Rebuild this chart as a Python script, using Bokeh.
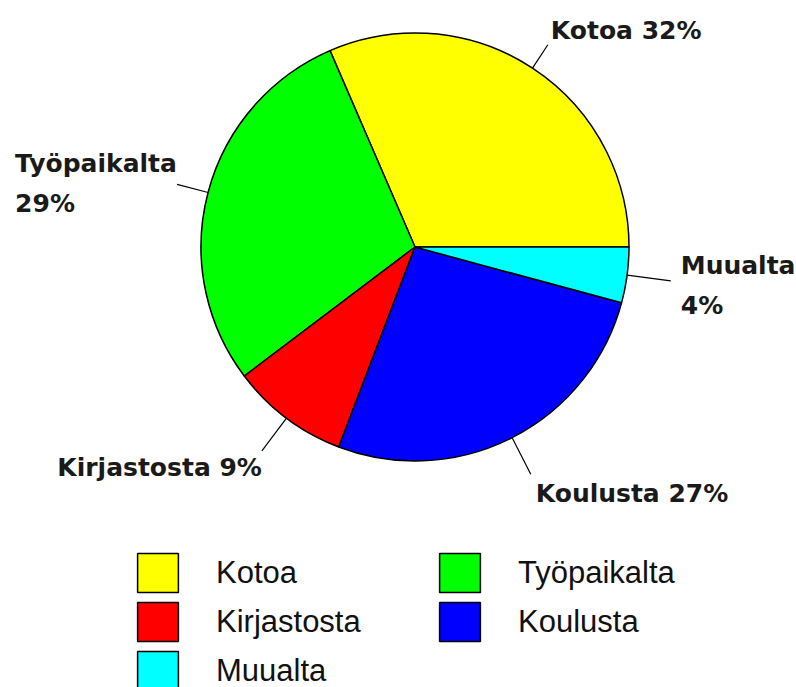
import numpy as np
from bokeh.plotting import figure
from bokeh.models import ColumnDataSource, Range1d, Legend, LegendItem
from bokeh.core.properties import value
from bokeh.embed import file_html
from bokeh.resources import INLINE

# ---- data ----
categories = ["Kotoa", "Työpaikalta", "Kirjastosta", "Koulusta", "Muualta"]
shares = [31.5, 28.8, 8.9, 26.6, 4.2]
colors = ["#FFFF00", "#00FF00", "#FF0000", "#0000FF", "#00FFFF"]

# ---- layout ----
W, H = 796, 687
CX, CY = 414.5, 246.5          # pie centre (page pixels)
R = 214                        # pie radius (pixels)
leader_r = [242, 246, 255, 255, 258]
label_dx = [3, -162, 0, 5, 10]
label_dy = [-14, -1, 17, 19, 5]      # downward positive
label_align = ["left", "left", "right", "left", "left"]
two_line = [False, True, False, False, True]
legend_order = [0, 2, 4, 1, 3]

total = float(sum(shares))
frac = np.array(shares) / total
ends = np.cumsum(frac) * 2 * np.pi
starts = ends - frac * 2 * np.pi
mids = (starts + ends) / 2
pct = [f"{int(round(f * 100))}%" for f in frac]
labels = [f"{c}\n{p}" if t else f"{c} {p}" for c, p, t in zip(categories, pct, two_line)]

p = figure(width=W, height=H, output_backend="svg", toolbar_location=None,
           x_range=Range1d(-CX, W - CX), y_range=Range1d(-(H - CY), CY),
           min_border=0, outline_line_color=None,
           x_axis_type=None, y_axis_type=None)
p.grid.visible = False
p.background_fill_color = "white"
p.border_fill_color = "white"

src = ColumnDataSource(dict(cat=categories, start=starts, end=ends, color=colors))
wedges = p.wedge(x=0, y=0, radius=R, start_angle="start", end_angle="end",
                 fill_color="color", line_color="black", line_width=1.5, source=src)

# leader lines
x0 = R * np.cos(mids)
y0 = R * np.sin(mids)
lr = np.array(leader_r)
x1 = lr * np.cos(mids)
y1 = lr * np.sin(mids)
p.segment(x0=x0, y0=y0, x1=x1, y1=y1, line_color="black", line_width=1.2)

# labels
lx = x1 + np.array(label_dx)
ly = y1 - np.array(label_dy)
for align in ("left", "right"):
    idx = [i for i, a in enumerate(label_align) if a == align]
    if not idx:
        continue
    p.text(x=[lx[i] for i in idx], y=[ly[i] for i in idx], text=[labels[i] for i in idx],
           text_font=value("DejaVu Sans"), text_font_style="bold", text_font_size="25px",
           text_align=align, text_baseline="middle", text_line_height=1.38,
           text_color="#1a1a1a")

items = [LegendItem(label=categories[i], renderers=[wedges], index=i) for i in legend_order]
legend = Legend(items=items, location=(132, -8), orientation="vertical", nrows=3,
                glyph_width=51, glyph_height=49, label_standoff=33, label_width=218,
                spacing=0, padding=0, margin=0, border_line_color=None,
                background_fill_alpha=0, label_text_font="Liberation Sans",
                label_text_font_size="31px", label_text_color="#111111")
p.add_layout(legend)

open("out.html", "w").write(file_html(p, INLINE))
